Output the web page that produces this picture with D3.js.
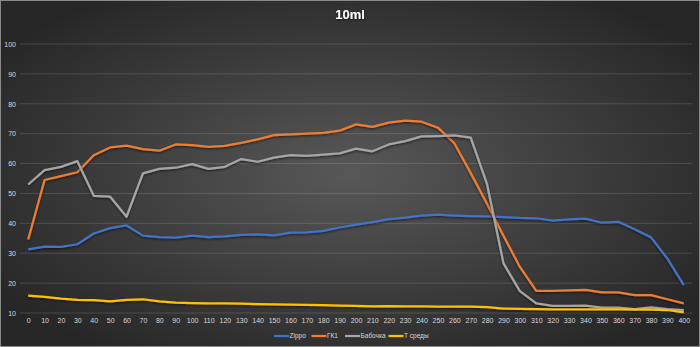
<!DOCTYPE html>
<html><head><meta charset="utf-8">
<script src="https://cdn.jsdelivr.net/npm/d3@7"></script>
<style>html,body{margin:0;padding:0;background:#333;}svg{display:block;}</style>
</head><body>
<script>
const categories = [0,10,20,30,40,50,60,70,80,90,100,110,120,130,140,150,160,170,180,190,200,210,220,230,240,250,260,270,280,290,300,310,320,330,340,350,360,370,380,390,400];
const zippo = [31.3,32.2,32.1,33.0,36.6,38.4,39.3,35.9,35.4,35.2,35.9,35.4,35.6,36.1,36.3,36.0,36.9,37.0,37.5,38.6,39.6,40.4,41.4,41.9,42.6,42.9,42.6,42.4,42.3,42.1,41.8,41.7,40.9,41.3,41.6,40.2,40.5,38.0,35.3,28.2,19.3];
const gk1 = [34.6,54.5,55.8,57.1,62.8,65.4,66.0,64.8,64.3,66.4,66.2,65.6,65.9,66.9,68.1,69.5,69.8,70.0,70.3,71.0,73.1,72.3,73.7,74.4,74.0,72.0,66.8,56.8,46.5,35.8,25.4,17.4,17.4,17.6,17.7,16.9,16.9,16.0,16.0,14.6,13.2];
const babochka = [53.0,57.8,58.9,60.8,49.2,48.9,42.2,56.7,58.2,58.6,59.8,58.2,58.9,61.5,60.6,62.0,62.8,62.6,63.0,63.4,65.0,64.1,66.4,67.5,69.1,69.2,69.4,68.7,53.0,26.6,17.3,13.2,12.4,12.4,12.5,11.8,11.8,11.3,11.9,11.3,11.0];
const tSredy = [15.8,15.4,14.8,14.4,14.3,13.9,14.4,14.6,13.9,13.5,13.3,13.2,13.2,13.1,13.0,12.9,12.8,12.7,12.6,12.5,12.4,12.2,12.3,12.2,12.2,12.1,12.1,12.1,12.0,11.5,11.4,11.3,11.2,11.2,11.2,11.2,11.2,11.1,11.1,11.0,10.2];
const yTicks = [10,20,30,40,50,60,70,80,90,100];
const seriesNames = ["Zippo","ГК1","Бабочка","Т среды"];
const seriesColors = ["#4472C4","#ED7D31","#A5A5A5","#FFC000"];
const seriesValues = [zippo, gk1, babochka, tSredy];
const title = "10ml";

const W = 700, H = 347;
const FONT = "'Liberation Sans', Arial, sans-serif";
const svg = d3.select("body").append("svg").attr("width", W).attr("height", H);
const defs = svg.append("defs");
const rg = defs.append("radialGradient").attr("id","bg").attr("cx","50%").attr("cy","50%").attr("r","62%");
rg.append("stop").attr("offset","0%").attr("stop-color","#585858");
rg.append("stop").attr("offset","100%").attr("stop-color","#262626");
const f = defs.append("filter").attr("id","sh").attr("x","-10%").attr("y","-10%").attr("width","120%").attr("height","140%");
f.append("feDropShadow").attr("dx",0).attr("dy",1.2).attr("stdDeviation",0.8).attr("flood-color","#000").attr("flood-opacity",0.6);

svg.append("rect").attr("width",W).attr("height",H).attr("fill","url(#bg)");
svg.append("rect").attr("x",0.5).attr("y",0.5).attr("width",W-1).attr("height",H-1).attr("fill","none").attr("stroke","#8a8a8a").attr("stroke-width",1);

const x = d3.scalePoint().domain(categories).range([20,692]).padding(0.5);
const y = d3.scaleLinear().domain([10,100]).range([313,44]);

// gridlines
svg.append("g").selectAll("line").data(yTicks).join("line")
  .attr("x1",20).attr("x2",692).attr("y1",d=>y(d)).attr("y2",d=>y(d))
  .attr("stroke","rgba(255,255,255,0.14)").attr("stroke-width",1);

// y axis labels
const yAxis = d3.axisLeft(y).tickValues(yTicks).tickSize(0).tickPadding(0);
const gy = svg.append("g").attr("transform","translate(16,0)").call(yAxis);
gy.select(".domain").remove();
gy.selectAll("text").attr("fill","#d9d9d9").attr("font-size","7px").attr("font-family",FONT);

// x axis labels
const xAxis = d3.axisBottom(x).tickSize(0).tickPadding(0);
const gx = svg.append("g").attr("transform","translate(0,318)").call(xAxis);
gx.select(".domain").remove();
gx.selectAll("text").attr("fill","#d9d9d9").attr("font-size","7px").attr("font-family",FONT);

// lines
const line = d3.line().x((d,i)=>x(categories[i])).y(d=>y(d));
seriesValues.forEach((vals,k)=>{
  svg.append("path").datum(vals).attr("d",line).attr("fill","none")
    .attr("stroke",seriesColors[k]).attr("stroke-width",2.25).attr("stroke-linejoin","round")
    .attr("filter","url(#sh)");
});

// title
svg.append("text").attr("x",350).attr("y",19).attr("text-anchor","middle")
  .attr("fill","#fff").attr("font-weight","bold").attr("font-size","13px")
  .attr("font-family",FONT).attr("filter","url(#sh)").text(title);

// legend
const legX = [274,311.5,345,388.5];
const lg = svg.append("g");
seriesNames.forEach((n,k)=>{
  lg.append("line").attr("x1",legX[k]).attr("x2",legX[k]+15).attr("y1",336).attr("y2",336)
    .attr("stroke",seriesColors[k]).attr("stroke-width",2.25);
  lg.append("text").attr("x",legX[k]+15.5).attr("y",338.4).attr("fill","#d9d9d9")
    .attr("font-size","6.5px").attr("font-family",FONT).text(n);
});
</script>
</body></html>
